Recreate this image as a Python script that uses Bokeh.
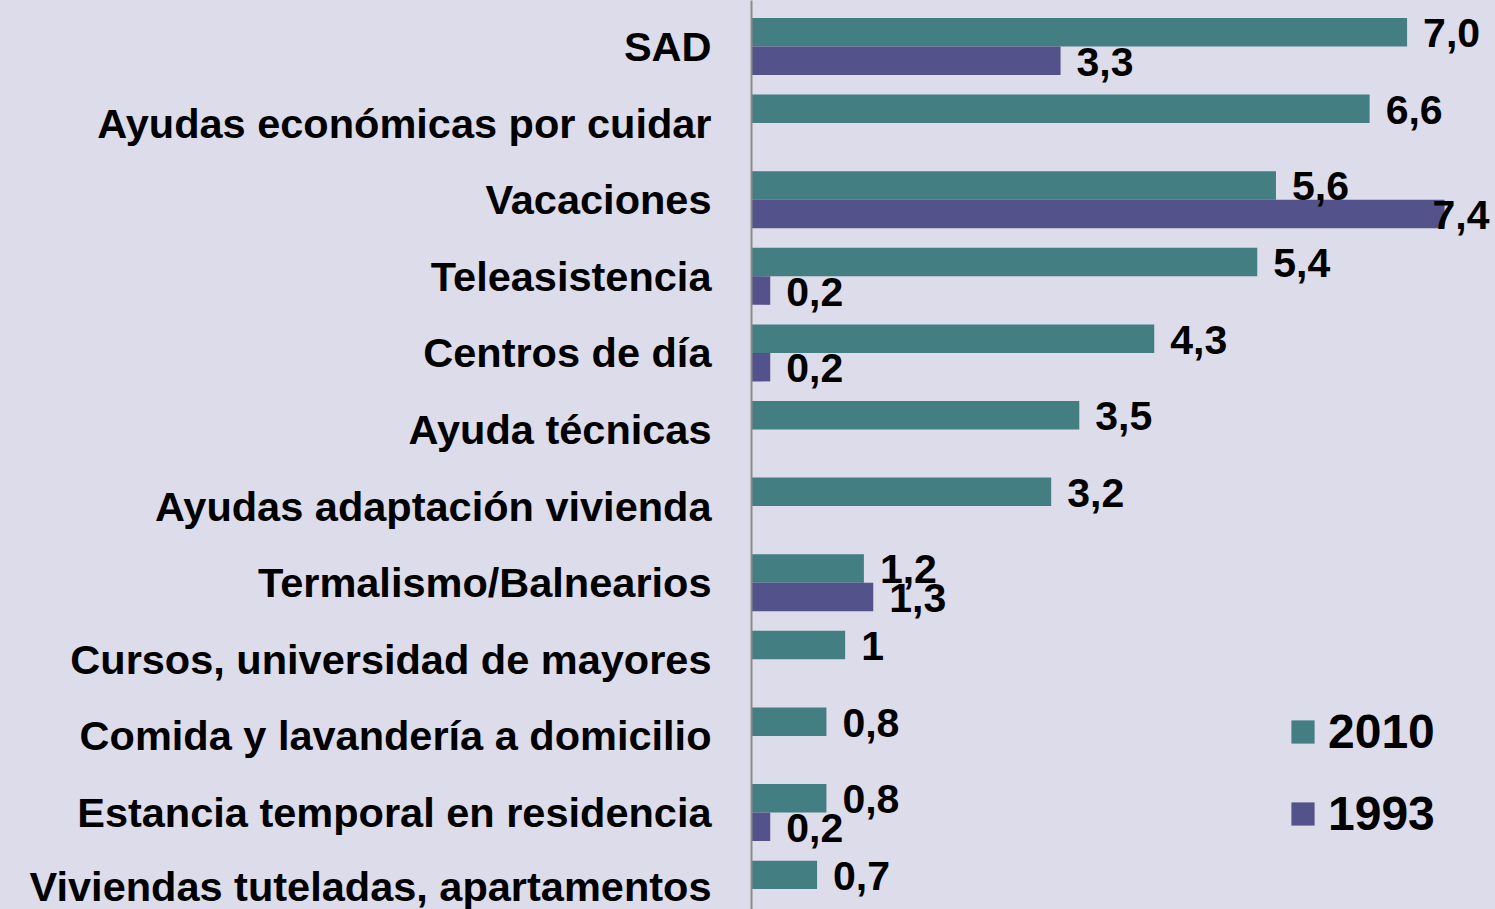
import numpy as np
from bokeh.plotting import figure
from bokeh.models import ColumnDataSource, Range1d, FixedTicker, Legend, LegendItem
from bokeh.core.properties import value
from bokeh.embed import file_html
from bokeh.resources import INLINE

categories = ["SAD", "Ayudas económicas por cuidar", "Vacaciones", "Teleasistencia",
              "Centros de día", "Ayuda técnicas", "Ayudas adaptación vivienda",
              "Termalismo/Balnearios", "Cursos, universidad de mayores",
              "Comida y lavandería a domicilio", "Estancia temporal en residencia",
              "Viviendas tuteladas, apartamentos"]
values_2010 = [7.0, 6.6, 5.6, 5.4, 4.3, 3.5, 3.2, 1.2, 1.0, 0.8, 0.8, 0.7]
labels_2010 = ["7,0", "6,6", "5,6", "5,4", "4,3", "3,5", "3,2", "1,2", "1", "0,8", "0,8", "0,7"]
values_1993 = [3.3, None, 7.4, 0.2, 0.2, None, None, 1.3, None, None, 0.2, None]
labels_1993 = ["3,3", None, "7,4", "0,2", "0,2", None, None, "1,3", None, None, "0,2", None]

BG = "#DCDCEA"
C2010 = "#427E82"
C1993 = "#53528A"
FONT = "Liberation Sans"
BAR_H = 0.372

W, H = 1495, 909
LEFT = 751
XMAX = 7.944
FRAME_W = W - LEFT
SCALE = FRAME_W / XMAX          # px per unit
LABEL_PX = 41                   # value label font size
LABEL_OFF = 16


def label_offsets(vals, labs):
    out = []
    for v, s in zip(vals, labs):
        wpx = 0.556 * LABEL_PX * (len(s) - (1 if "," in s else 0)) + (0.278 * LABEL_PX if "," in s else 0)
        end = v * SCALE
        off = LABEL_OFF
        if end + off + wpx > FRAME_W - 6:
            off = FRAME_W - 6 - wpx - end
        out.append(off)
    return out


idx = np.arange(len(categories))
src10 = ColumnDataSource(dict(y=idx - BAR_H / 2, v=values_2010, lab=labels_2010,
                              off=label_offsets(values_2010, labels_2010)))
k = [i for i, v in enumerate(values_1993) if v is not None]
v93 = [values_1993[i] for i in k]
l93 = [labels_1993[i] for i in k]
src93 = ColumnDataSource(dict(y=[i + BAR_H / 2 for i in k], v=v93, lab=l93,
                              off=label_offsets(v93, l93)))

p = figure(width=W, height=H, output_backend="svg", toolbar_location=None,
           x_range=Range1d(0, XMAX), y_range=Range1d(11.266, -0.6005),
           x_axis_type=None)
p.min_border_left = LEFT
p.min_border_right = 0
p.min_border_top = 0
p.min_border_bottom = 0
p.background_fill_color = BG
p.border_fill_color = BG
p.outline_line_color = None
p.grid.visible = False

r10 = p.hbar(y="y", right="v", left=0, height=BAR_H, source=src10,
             fill_color=C2010, line_color=None)
r93 = p.hbar(y="y", right="v", left=0, height=BAR_H, source=src93,
             fill_color=C1993, line_color=None)

for s in (src10, src93):
    p.text(x="v", y="y", text="lab", source=s, x_offset="off", y_offset=1,
           text_align="left", text_baseline="middle",
           text_font=value(FONT), text_font_style="bold",
           text_font_size="%dpx" % LABEL_PX, text_color="black")

ax = p.yaxis[0]
ax.ticker = FixedTicker(ticks=list(idx))
ax.major_label_overrides = {int(i): c for i, c in enumerate(categories)}
ax.major_label_text_font = FONT
ax.major_label_text_font_style = "bold"
ax.major_label_text_font_size = "41.5px"
ax.major_label_text_color = "black"
ax.major_label_standoff = 40
ax.major_tick_line_color = None
ax.minor_tick_line_color = None
ax.major_tick_out = 0
ax.major_tick_in = 0
ax.axis_line_color = "#8C8C8C"
ax.axis_line_width = 2

legend = Legend(items=[LegendItem(label="2010", renderers=[r10]),
                       LegendItem(label="1993", renderers=[r93])],
                location=(537, 68), orientation="vertical")
legend.background_fill_alpha = 0
legend.border_line_alpha = 0
legend.padding = 0
legend.margin = 0
legend.glyph_width = 29
legend.glyph_height = 29
legend.label_standoff = 11
legend.spacing = 27
legend.label_text_font = FONT
legend.label_text_font_style = "bold"
legend.label_text_font_size = "48px"
legend.label_text_color = "black"
p.add_layout(legend, "center")

html = file_html(p, INLINE)
html = html.replace("<head>", "<head><style>html,body{background:%s;overflow:hidden;}</style>" % BG, 1)
open("out.html", "w").write(html)
